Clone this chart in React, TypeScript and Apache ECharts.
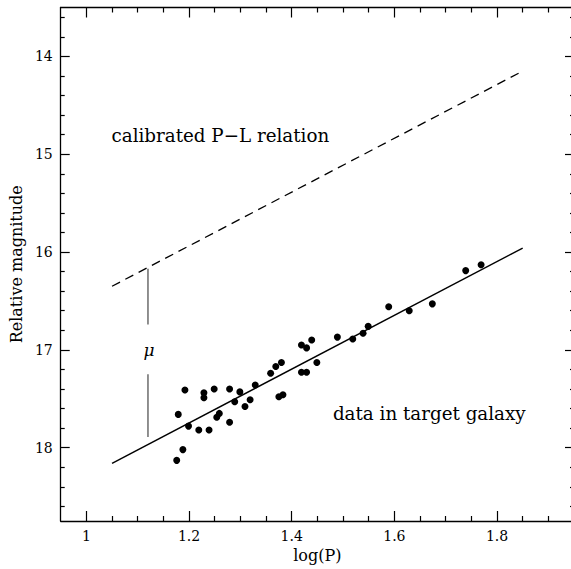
import React, { useEffect, useRef } from "react";
import * as echarts from "echarts";

// Cepheid data in target galaxy
const logP = [1.176, 1.188, 1.179, 1.192, 1.199, 1.219, 1.229, 1.229, 1.239, 1.249, 1.254, 1.259, 1.279, 1.279, 1.289, 1.299, 1.309, 1.319, 1.329, 1.359, 1.369, 1.380, 1.375, 1.383, 1.419, 1.429, 1.439, 1.419, 1.429, 1.449, 1.489, 1.519, 1.539, 1.549, 1.589, 1.629, 1.674, 1.739, 1.769];
const mag = [18.13, 18.02, 17.66, 17.41, 17.78, 17.82, 17.44, 17.49, 17.82, 17.40, 17.69, 17.65, 17.40, 17.74, 17.53, 17.43, 17.58, 17.51, 17.36, 17.24, 17.17, 17.13, 17.48, 17.46, 16.95, 16.98, 16.90, 17.23, 17.23, 17.13, 16.87, 16.89, 16.83, 16.76, 16.56, 16.60, 16.53, 16.19, 16.13];

// Fit line to data and calibrated P-L relation
const lineX = [1.05, 1.85];
const fitMag = [18.16, 15.96];
const calMag = [16.35, 14.15];

// Distance modulus marker
const muX = 1.12;
const muUpper = [16.17, 16.74];
const muLower = [17.25, 17.89];

// Ticks
const xMajor = [1, 1.2, 1.4, 1.6, 1.8];
const xMinor = [1.05, 1.1, 1.15, 1.25, 1.3, 1.35, 1.45, 1.5, 1.55, 1.65, 1.7, 1.75, 1.85, 1.9];
const yMajor = [14, 15, 16, 17, 18];
const yMinor = [13.6, 13.8, 14.2, 14.4, 14.6, 14.8, 15.2, 15.4, 15.6, 15.8, 16.2, 16.4, 16.6, 16.8, 17.2, 17.4, 17.6, 17.8, 18.2, 18.4, 18.6];

// Annotations (data coordinates)
const annText = ["calibrated P\u2212L relation", "data in target galaxy"];
const annX = [1.261, 1.668];
const annY = [14.81, 17.65];
const muLabel = "\u03bc";

const FONT = "DejaVu Serif";
const X_MIN = 0.95, X_MAX = 1.95, Y_MIN = 13.5, Y_MAX = 18.75;

function xAxis(pos: "bottom" | "top", major: boolean, withLabel: boolean) {
  return {
    type: "value",
    position: pos,
    min: X_MIN,
    max: X_MAX,
    splitLine: { show: false },
    axisLine: { show: major, onZero: false, lineStyle: { color: "#000", width: 1.3 } },
    axisTick: {
      show: true,
      inside: true,
      length: major ? 10 : 5,
      customValues: major ? xMajor : xMinor,
      lineStyle: { color: "#000", width: 1.2 },
    },
    axisLabel: withLabel
      ? { show: true, customValues: xMajor, fontFamily: FONT, fontSize: 14, color: "#000", margin: 8 }
      : { show: false },
    name: withLabel ? "log(P)" : "",
    nameLocation: "middle",
    nameGap: 26,
    nameTextStyle: { fontFamily: FONT, fontSize: 16, color: "#000" },
  };
}

function yAxis(pos: "left" | "right", major: boolean, withLabel: boolean) {
  return {
    type: "value",
    position: pos,
    min: Y_MIN,
    max: Y_MAX,
    inverse: true,
    splitLine: { show: false },
    axisLine: { show: major, onZero: false, lineStyle: { color: "#000", width: 1.3 } },
    axisTick: {
      show: true,
      inside: true,
      length: major ? 9 : 4,
      customValues: major ? yMajor : yMinor,
      lineStyle: { color: "#000", width: 1.2 },
    },
    axisLabel: withLabel
      ? { show: true, customValues: yMajor, fontFamily: FONT, fontSize: 14, color: "#000", margin: 8 }
      : { show: false },
    name: withLabel ? "Relative magnitude" : "",
    nameLocation: "middle",
    nameGap: 36,
    nameTextStyle: { fontFamily: FONT, fontSize: 16, color: "#000" },
  };
}

export default function App() {
  const ref = useRef<HTMLDivElement>(null);
  useEffect(() => {
    if (!ref.current) return;
    const chart = echarts.init(ref.current, undefined, { renderer: "svg" });
    const option = {
      animation: false,
      backgroundColor: "#fff",
      grid: { left: 60.5, right: 6, top: 7.5, bottom: 48 },
      xAxis: [
        xAxis("bottom", true, true),
        xAxis("bottom", false, false),
        xAxis("top", true, false),
        xAxis("top", false, false),
      ],
      yAxis: [
        yAxis("left", true, true),
        yAxis("left", false, false),
        yAxis("right", true, false),
        yAxis("right", false, false),
      ],
      series: [
        {
          type: "line",
          data: lineX.map((x, i) => [x, calMag[i]]),
          showSymbol: false,
          lineStyle: { color: "#000", width: 1.3, type: [9, 6] },
          silent: true,
        },
        {
          type: "line",
          data: lineX.map((x, i) => [x, fitMag[i]]),
          showSymbol: false,
          lineStyle: { color: "#000", width: 1.4 },
          silent: true,
        },
        {
          type: "line",
          data: muUpper.map((y) => [muX, y]),
          showSymbol: false,
          lineStyle: { color: "#555", width: 1.3 },
          silent: true,
        },
        {
          type: "line",
          data: muLower.map((y) => [muX, y]),
          showSymbol: false,
          lineStyle: { color: "#555", width: 1.3 },
          silent: true,
        },
        {
          type: "scatter",
          data: logP.map((x, i) => [x, mag[i]]),
          symbol: "circle",
          symbolSize: 7,
          itemStyle: { color: "#000", opacity: 1 },
        },
        {
          type: "scatter",
          symbolSize: 1,
          silent: true,
          itemStyle: { opacity: 0 },
          data: annText.map((t, i) => ({ name: t, value: [annX[i], annY[i]] })),
          label: {
            show: true,
            position: "inside",
            formatter: (p: any) => p.name,
            fontFamily: FONT,
            fontSize: 18.3,
            color: "#000",
            opacity: 1,
          },
        },
        {
          type: "scatter",
          symbolSize: 1,
          silent: true,
          itemStyle: { opacity: 0 },
          data: [{ name: muLabel, value: [muX + 0.002, 17.0] }],
          label: {
            show: true,
            position: "inside",
            formatter: (p: any) => p.name,
            fontFamily: FONT,
            fontStyle: "italic",
            fontSize: 17,
            color: "#000",
            opacity: 1,
          },
        },
      ],
    };
    chart.setOption(option as any);
    return () => chart.dispose();
  }, []);
  return (
    <div
      ref={ref}
      style={{ position: "fixed", left: 0, top: 0, width: 580, height: 569, background: "#fff" }}
    />
  );
}
